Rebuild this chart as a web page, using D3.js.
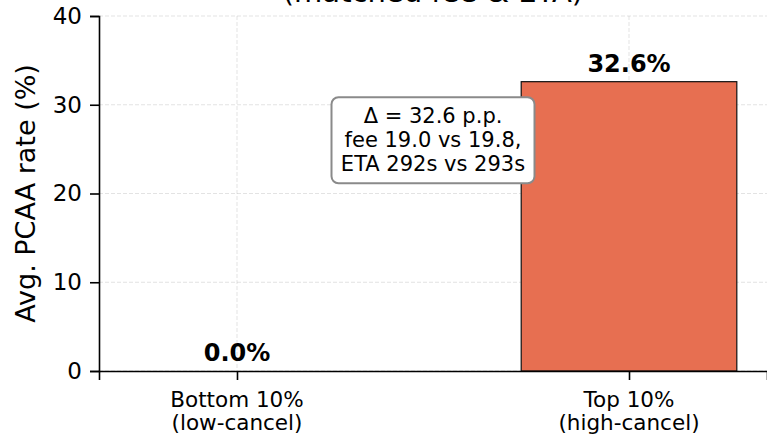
<!DOCTYPE html>
<html>
<head>
<meta charset="utf-8">
<script src="https://cdn.jsdelivr.net/npm/d3@7"></script>
<style>
  html, body { margin: 0; padding: 0; background: #fff; }
  svg { display: block; font-family: "DejaVu Sans", sans-serif; }
</style>
</head>
<body>
<svg id="chart" width="767" height="436"></svg>
<script>
const categories = ["Bottom 10%\n(low-cancel)", "Top 10%\n(high-cancel)"];
const values = [0.0, 32.6];
const valueLabels = ["0.0%", "32.6%"];
const yTicks = [0, 10, 20, 30, 40];
const titleLines = ["PCAA rate by cancellation decile", "(matched fee & ETA)"];
const annotationLines = ["\u0394 = 32.6 p.p.", "fee 19.0 vs 19.8,", "ETA 292s vs 293s"];

(function () {
const mLeft = 99, mRight = 767, mTop = 16, mBottom = 371;
const svg = d3.select("#chart");

const x = d3.scaleLinear().domain([-0.352, 1.352]).range([mLeft, mRight]);
const y = d3.scaleLinear().domain([0, 40]).range([mBottom, mTop]);
const barW = 0.55;

// grid
const grid = svg.append("g");
grid.selectAll("line.h").data(yTicks).join("line")
  .attr("x1", mLeft).attr("x2", mRight)
  .attr("y1", d => y(d)).attr("y2", d => y(d))
  .attr("stroke", "#b0b0b0").attr("stroke-opacity", 0.35)
  .attr("stroke-width", 1).attr("stroke-dasharray", "4,2");
grid.selectAll("line.v").data(categories).join("line")
  .attr("x1", (d, i) => x(i)).attr("x2", (d, i) => x(i))
  .attr("y1", mTop).attr("y2", mBottom)
  .attr("stroke", "#b0b0b0").attr("stroke-opacity", 0.35)
  .attr("stroke-width", 1).attr("stroke-dasharray", "4,2");

// bars
svg.append("g").selectAll("rect").data(values).join("rect")
  .attr("x", (d, i) => x(i - barW / 2))
  .attr("width", (d, i) => x(i + barW / 2) - x(i - barW / 2))
  .attr("y", d => y(d))
  .attr("height", d => y(0) - y(d))
  .attr("fill", "#E76F51")
  .attr("stroke", "#111").attr("stroke-width", 1.2);

// value labels
svg.append("g").selectAll("text").data(values).join("text")
  .attr("x", (d, i) => x(i))
  .attr("y", d => y(d) - 10)
  .attr("text-anchor", "middle")
  .attr("font-weight", "bold")
  .attr("font-size", 24)
  .attr("fill", "#000")
  .text((d, i) => valueLabels[i]);

// y axis
const yAxis = d3.axisLeft(y).tickValues(yTicks).tickSize(9).tickPadding(8).tickFormat(d3.format("d"));
const gy = svg.append("g").attr("transform", `translate(${mLeft},0)`).call(yAxis);
gy.select(".domain").attr("stroke", "#000").attr("stroke-width", 1.6);
gy.selectAll(".tick line").attr("stroke", "#000").attr("stroke-width", 1.6);
gy.selectAll(".tick text").attr("font-size", 23).attr("fill", "#000").attr("font-family", "DejaVu Sans");

// x axis
const xAxis = d3.axisBottom(x).tickValues([0, 1]).tickSize(9).tickFormat("");
const gx = svg.append("g").attr("transform", `translate(0,${mBottom})`).call(xAxis);
gx.select(".domain").attr("stroke", "#000").attr("stroke-width", 1.6);
gx.selectAll(".tick line").attr("stroke", "#000").attr("stroke-width", 1.6);
const xl = svg.append("g").selectAll("text").data(categories).join("text")
  .attr("text-anchor", "middle")
  .attr("font-size", 21.5)
  .attr("fill", "#000");
xl.each(function(d, i) {
  const t = d3.select(this);
  d.split("\n").forEach((line, k) => {
    t.append("tspan").attr("x", x(i)).attr("y", 407 + k * 23).text(line);
  });
});

// y label
svg.append("text")
  .attr("transform", `translate(35,${(mTop + mBottom) / 2}) rotate(-90)`)
  .attr("text-anchor", "middle")
  .attr("font-size", 27)
  .attr("fill", "#000")
  .text("Avg. PCAA rate (%)");

// title (cut off at top)
const tt = svg.append("text").attr("text-anchor", "middle").attr("font-size", 29).attr("fill", "#000");
titleLines.forEach((line, k) => {
  tt.append("tspan").attr("x", (mLeft + mRight) / 2).attr("y", -32 + k * 34).text(line);
});

// annotation box
const ag = svg.append("g").attr("transform", `translate(${x(0.5)},${y(26)})`);
const bw = 203, bh = 86;
ag.append("rect").attr("x", -bw / 2).attr("y", -bh / 2).attr("width", bw).attr("height", bh)
  .attr("rx", 7).attr("fill", "#fff").attr("stroke", "#8a8a8a").attr("stroke-width", 2);
const at = ag.append("text").attr("text-anchor", "middle").attr("font-size", 21).attr("fill", "#000");
annotationLines.forEach((line, k) => {
  at.append("tspan").attr("x", 0).attr("y", -17 + k * 24).text(line);
});
})();
</script>
</body>
</html>
